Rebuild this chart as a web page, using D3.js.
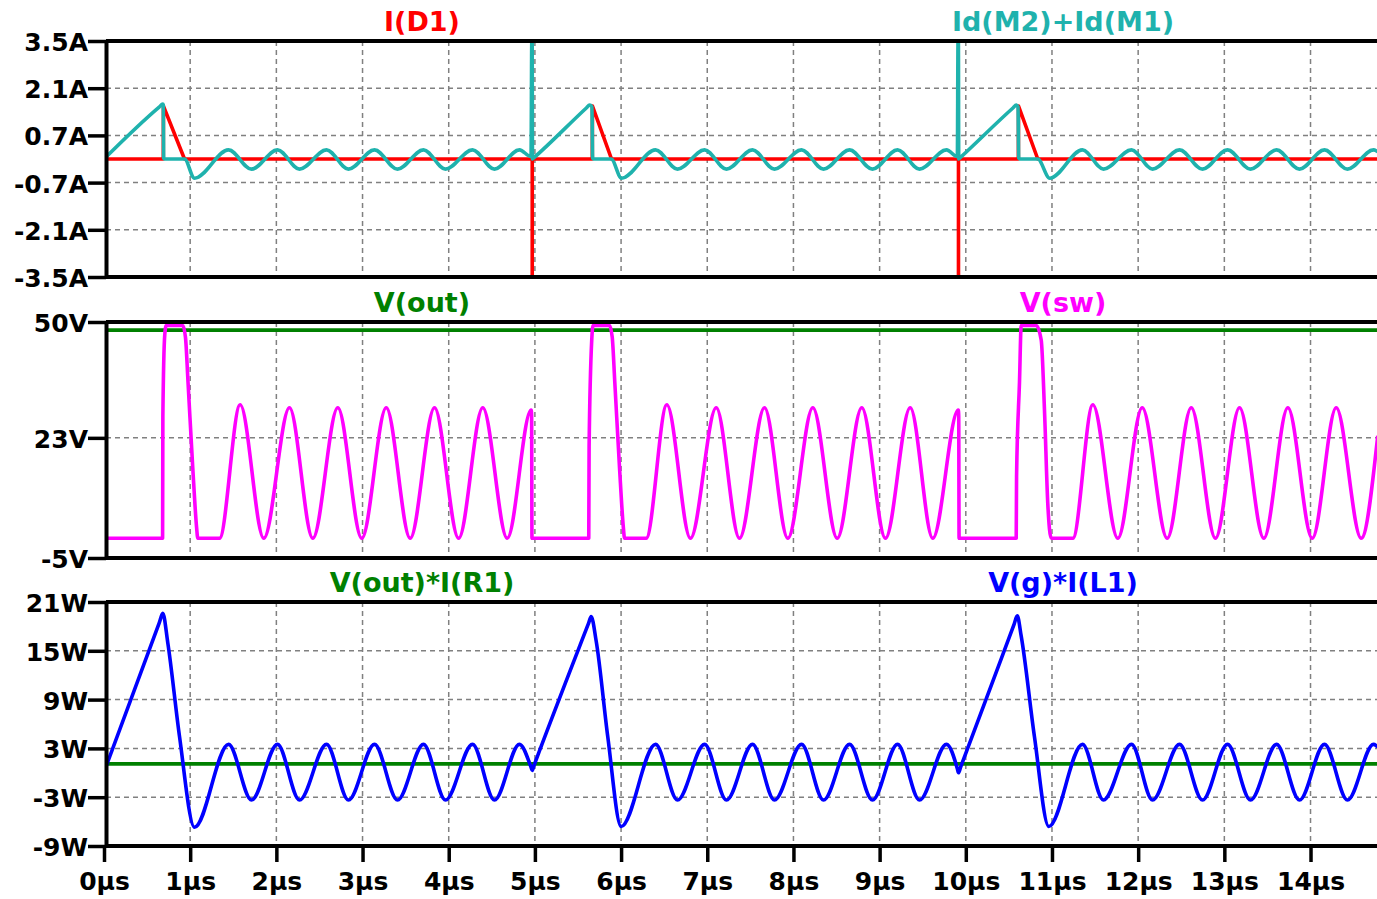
<!DOCTYPE html>
<html>
<head>
<meta charset="utf-8">
<script src="https://cdn.jsdelivr.net/npm/d3@7/dist/d3.min.js"></script>
<style>
  body { margin: 0; background: #fff; }
  svg text { font-family: "DejaVu Sans", Verdana, sans-serif; font-weight: bold; }
  .grid line { stroke: #808080; stroke-width: 1.5; stroke-dasharray: 5,4; }
  .trace { fill: none; stroke-width: 3.6; stroke-linejoin: round; }
</style>
</head>
<body>
<div id="chart"></div>
<script>
// ---- data (time in µs) ----
var xTicks = [0, 1, 2, 3, 4, 5, 6, 7, 8, 9, 10, 11, 12, 13, 14];
var currentTicks = [3.5, 2.1, 0.7, -0.7, -2.1, -3.5];
var voltageTicks = [50, 23, -5];
var powerTicks = [21, 15, 9, 3, -3, -9];

// I(D1)
var iD1 = [[0,0],[0.688,0],[0.690,1.57],[0.934,0],[4.969,0],[4.969,-3.5],[4.969,0],
  [5.666,0],[5.668,1.57],[5.889,0],[9.915,0],[9.915,-3.5],[9.915,0],
  [10.610,0],[10.612,1.57],[10.835,0],[14.78,0]];

// Id(M2)+Id(M1)
var idM = [[0,0],[0.64,1.54],[0.682,1.63],[0.688,1.60],[0.692,0.03],[0.70,0],[0.934,0],[1.050,-0.57],
  [1.445,0.27],[1.712,-0.30],[2.013,0.27],[2.269,-0.30],[2.582,0.27],[2.837,-0.30],[3.139,0.27],
  [3.406,-0.30],[3.707,0.27],[3.963,-0.30],[4.276,0.27],[4.531,-0.30],[4.821,0.27],[4.955,0.07],
  [4.964,3.5],[4.968,3.5],[4.972,0],[4.99,0.04],[5.60,1.52],[5.634,1.60],[5.662,1.55],[5.670,0.03],
  [5.68,0],[5.885,0],[6.005,-0.57],[6.400,0.27],[6.655,-0.30],[6.969,0.27],[7.223,-0.30],
  [7.525,0.27],[7.780,-0.30],[8.094,0.27],[8.349,-0.30],[8.651,0.27],[8.917,-0.30],[9.208,0.27],
  [9.463,-0.30],[9.776,0.27],[9.902,0.07],[9.910,3.5],[9.914,3.5],[9.918,0],[9.935,0.04],
  [10.55,1.52],[10.585,1.60],[10.606,1.55],[10.614,0.03],[10.625,0],[10.835,0],[10.974,-0.57],
  [11.354,0.27],[11.598,-0.30],[11.923,0.27],[12.167,-0.30],[12.480,0.27],[12.747,-0.30],
  [13.037,0.27],[13.304,-0.30],[13.606,0.27],[13.872,-0.30],[14.162,0.27],[14.429,-0.30],
  [14.731,0.27],[14.78,0.22]];

// V(out)
var vOut = [[0,48.1],[14.78,48.1]];

// V(sw)
var vSw = [[0,-0.4],[0.680,-0.4],[0.683,28],[0.705,47],[0.722,49.2],[0.914,49.2],[0.945,46.5],
  [0.975,36],[1.03,16],[1.075,2],[1.088,-0.4],[1.340,-0.4],
  [1.580,30.7],[1.854,-0.4],[2.152,30],[2.423,-0.4],[2.713,30],[2.991,-0.4],[3.275,30],
  [3.553,-0.4],[3.835,30],[4.115,-0.4],[4.395,30],[4.679,-0.4],[4.957,29.5],[4.962,28],
  [4.966,-0.4],[5.625,-0.4],[5.629,21],[5.66,46],[5.675,49.2],[5.866,49.2],[5.897,46.5],
  [5.927,36],[5.982,16],[6.027,2],[6.040,-0.4],[6.291,-0.4],
  [6.531,30.7],[6.805,-0.4],[7.104,30],[7.374,-0.4],[7.664,30],[7.935,-0.4],[8.225,30],
  [8.508,-0.4],[8.793,30],[9.068,-0.4],[9.355,30],[9.617,-0.4],[9.913,29.5],[9.918,28],
  [9.922,-0.4],[10.585,-0.4],[10.589,14],[10.623,36],[10.643,49.2],[10.817,49.2],
  [10.875,45.8],[10.913,29.5],[10.951,7.8],[10.991,-0.4],[11.242,-0.4],
  [11.474,30.7],[11.764,-0.4],[12.047,30],[12.337,-0.4],[12.616,30],[12.897,-0.4],
  [13.176,30],[13.458,-0.4],[13.737,30],[14.020,-0.4],[14.298,30],[14.588,-0.4],[14.78,23.5]];

// V(out)*I(R1)
var pOut = [[0,1.1],[14.78,1.1]];

// V(g)*I(L1)
var pIn = [[0,0.1],[0.64,18.4],[0.682,19.6],[0.740,16.0],[0.877,4.4],[1.050,-6.7],
  [1.445,3.5],[1.712,-3.35],[2.013,3.5],[2.269,-3.35],[2.582,3.5],[2.837,-3.35],[3.139,3.5],
  [3.406,-3.35],[3.707,3.5],[3.963,-3.35],[4.276,3.5],[4.531,-3.35],[4.821,3.5],[4.955,0.7],
  [4.969,0.3],[4.99,0.9],[5.62,18.3],[5.653,19.2],[5.711,16.2],[5.846,4.4],[6.001,-6.6],
  [6.400,3.5],[6.655,-3.35],[6.969,3.5],[7.223,-3.35],[7.525,3.5],[7.780,-3.35],[8.094,3.5],
  [8.349,-3.35],[8.651,3.5],[8.917,-3.35],[9.208,3.5],[9.463,-3.35],[9.776,3.5],[9.902,0.5],
  [9.915,0.0],[9.94,0.7],[10.56,18.25],[10.597,19.3],[10.643,16.8],[10.797,4.4],[10.963,-6.6],
  [11.354,3.5],[11.598,-3.35],[11.923,3.5],[12.167,-3.35],[12.480,3.5],[12.747,-3.35],
  [13.037,3.5],[13.304,-3.35],[13.606,3.5],[13.872,-3.35],[14.162,3.5],[14.429,-3.35],
  [14.731,3.5],[14.78,3.2]];

// ---- chart ----
var fullwidth = 1377;
var fullheight = 899;
var plotLeft = 104;
var plotRight = 1377;
var axisX = 106;

var red = "#ff0000", cyan = "#1fb2ad", green = "#008000", magenta = "#ff00ff", blue = "#0000ff";

var svg = d3.select("#chart")
  .append("svg")
  .attr("width", fullwidth)
  .attr("height", fullheight)
  .style("display", "block");

var xScale = d3.scaleLinear()
  .domain([0, 14.78])
  .range([plotLeft, plotLeft + 14.78 * 86.18]);

var panels = [
  { top: 41, bottom: 277, domain: [-3.5, 3.5], ticks: currentTicks, unit: "A",
    traces: [ { data: iD1, color: red, curve: d3.curveLinear },
              { data: idM, color: cyan, curve: d3.curveMonotoneX } ],
    titles: [ { text: "I(D1)", color: red, x: 422 },
              { text: "Id(M2)+Id(M1)", color: cyan, x: 1063 } ] },
  { top: 322, bottom: 558, domain: [-5, 50], ticks: voltageTicks, unit: "V",
    traces: [ { data: vOut, color: green, curve: d3.curveLinear },
              { data: vSw, color: magenta, curve: d3.curveMonotoneX } ],
    titles: [ { text: "V(out)", color: green, x: 422 },
              { text: "V(sw)", color: magenta, x: 1063 } ] },
  { top: 602, bottom: 846, domain: [-9, 21], ticks: powerTicks, unit: "W",
    traces: [ { data: pOut, color: green, curve: d3.curveLinear },
              { data: pIn, color: blue, curve: d3.curveMonotoneX } ],
    titles: [ { text: "V(out)*I(R1)", color: green, x: 422 },
              { text: "V(g)*I(L1)", color: blue, x: 1063 } ] }
];

panels.forEach(function(p, i) {
  var yScale = d3.scaleLinear().domain(p.domain).range([p.bottom, p.top]);
  var g = svg.append("g");

  g.append("clipPath")
    .attr("id", "clip" + i)
    .append("rect")
    .attr("x", axisX)
    .attr("y", p.top)
    .attr("width", plotRight - axisX)
    .attr("height", p.bottom - p.top);

  // dashed grid
  var grid = g.append("g").attr("class", "grid");
  grid.selectAll("line.v")
    .data(xTicks.filter(function(d) { return d > 0; }))
    .enter()
    .append("line")
    .attr("x1", function(d) { return xScale(d); })
    .attr("x2", function(d) { return xScale(d); })
    .attr("y1", p.top)
    .attr("y2", p.bottom);
  grid.selectAll("line.h")
    .data(p.ticks.filter(function(d) { return d !== p.domain[0] && d !== p.domain[1]; }))
    .enter()
    .append("line")
    .attr("x1", axisX)
    .attr("x2", plotRight)
    .attr("y1", function(d) { return yScale(d); })
    .attr("y2", function(d) { return yScale(d); });

  // traces
  p.traces.forEach(function(t) {
    var line = d3.line()
      .x(function(d) { return xScale(d[0]); })
      .y(function(d) { return yScale(d[1]); })
      .curve(t.curve);
    g.append("path")
      .datum(t.data)
      .attr("class", "trace")
      .attr("clip-path", "url(#clip" + i + ")")
      .attr("stroke", t.color)
      .attr("d", line);
  });

  // frame top
  g.append("line")
    .attr("x1", axisX).attr("x2", plotRight)
    .attr("y1", p.top).attr("y2", p.top)
    .attr("stroke", "#000").attr("stroke-width", 4);

  if (i < panels.length - 1) {
    g.append("line")
      .attr("x1", axisX).attr("x2", plotRight)
      .attr("y1", p.bottom).attr("y2", p.bottom)
      .attr("stroke", "#000").attr("stroke-width", 4);
  } else {
    var xAxis = d3.axisBottom(xScale)
      .tickValues(xTicks)
      .tickSize(16)
      .tickSizeOuter(0)
      .tickPadding(10)
      .tickFormat(function(d) { return d + "µs"; });
    var gx = g.append("g")
      .attr("transform", "translate(0," + p.bottom + ")")
      .call(xAxis);
    gx.attr("font-family", null).attr("font-size", 25);
    gx.select(".domain").attr("stroke-width", 4).attr("d", "M" + axisX + ",0H" + plotRight);
    gx.selectAll(".tick line").attr("stroke-width", 3.5);
    gx.selectAll(".tick text").attr("fill", "#000");
  }

  // left axis
  var yAxis = d3.axisLeft(yScale)
    .tickValues(p.ticks)
    .tickSize(18)
    .tickSizeOuter(0)
    .tickPadding(0)
    .tickFormat(function(d) { return d + p.unit; });
  var gy = g.append("g")
    .attr("transform", "translate(" + axisX + ",0)")
    .call(yAxis);
  gy.attr("font-family", null).attr("font-size", 25);
  gy.select(".domain").attr("stroke-width", 4);
  gy.selectAll(".tick line").attr("stroke-width", 3.5);
  gy.selectAll(".tick text").attr("fill", "#000").attr("dy", "0.38em");

  // trace titles
  g.selectAll("text.title")
    .data(p.titles)
    .enter()
    .append("text")
    .attr("class", "title")
    .attr("x", function(d) { return d.x; })
    .attr("y", p.top - 10)
    .attr("text-anchor", "middle")
    .attr("font-size", 27)
    .attr("fill", function(d) { return d.color; })
    .text(function(d) { return d.text; });
});
</script>
</body>
</html>
